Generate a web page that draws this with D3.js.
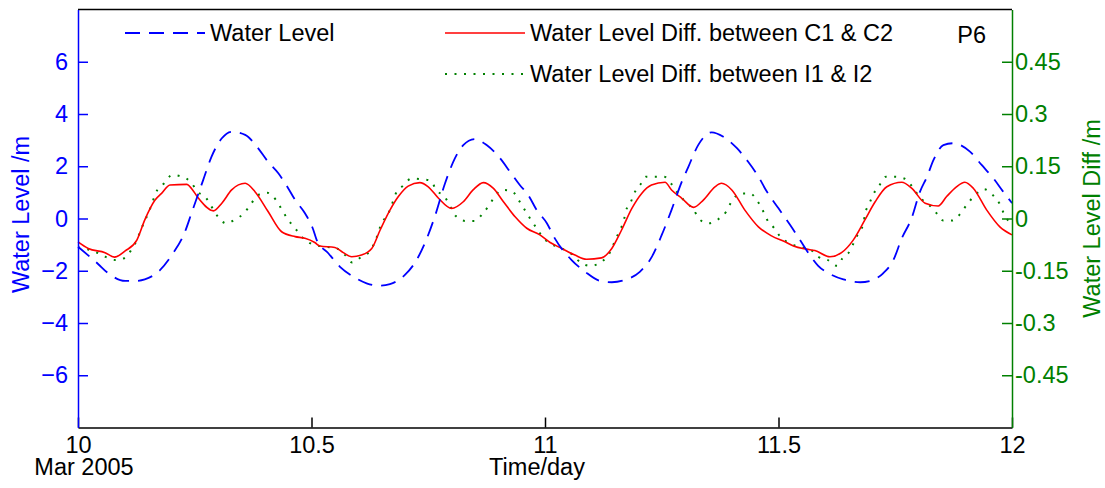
<!DOCTYPE html>
<html>
<head>
<meta charset="utf-8">
<script src="https://cdn.jsdelivr.net/npm/d3@7"></script>
<style>
  body { margin: 0; background: #fff; }
  svg text { font-family: "Liberation Sans", Arial, sans-serif; }
</style>
</head>
<body>
<div id="chart"></div>
<script>
// water level (left axis, m)
var wlTime = [10.000,10.043,10.065,10.101,10.122,10.143,10.176,10.201,10.229,10.243,10.268,10.286,10.308,10.329,10.358,10.383,10.407,10.429,10.450,10.465,10.486,10.504,
  10.511,10.536,10.561,10.590,10.618,10.643,10.668,10.700,10.725,10.747,10.764,10.786,10.807,10.825,10.850,10.875,10.904,10.925,10.946,10.964,10.982,11.004,
  11.021,11.057,11.086,11.118,11.143,11.175,11.203,11.229,11.250,11.271,11.293,11.307,11.328,11.357,11.382,11.411,11.435,11.457,11.475,11.500,
  11.525,11.546,11.567,11.585,11.610,11.639,11.675,11.696,11.724,11.746,11.764,11.785,11.803,11.818,11.832,11.853,11.874,11.910,11.935,11.960,11.981,12.000];
var wlValue = [-1.08,-1.74,-2.10,-2.39,-2.39,-2.33,-1.97,-1.40,-0.51,0.20,1.47,2.37,3.07,3.32,3.20,2.75,2.17,1.73,1.16,0.71,0.20,-0.44,
  -0.82,-1.33,-1.85,-2.23,-2.48,-2.57,-2.51,-2.16,-1.59,-0.76,0.07,1.35,2.30,2.81,3.04,2.81,2.30,1.79,1.28,0.90,0.33,-0.18,
  -0.76,-1.59,-2.04,-2.39,-2.44,-2.33,-2.04,-1.46,-0.63,0.33,1.41,1.98,2.81,3.30,3.13,2.69,2.17,1.60,1.03,0.39,
  -0.25,-0.82,-1.40,-1.81,-2.12,-2.33,-2.44,-2.39,-2.10,-1.59,-0.76,0.01,1.03,1.60,2.24,2.81,2.88,2.56,2.05,1.54,1.03,0.59];

// water level diff between C1 & C2 (right axis, m)
var c12Time = [10.000,10.022,10.058,10.078,10.101,10.126,10.143,10.165,10.179,10.197,10.233,10.240,10.258,10.290,10.308,10.329,10.358,10.379,10.407,10.436,10.465,10.486,
  10.507,10.518,10.550,10.568,10.586,10.607,10.629,10.647,10.668,10.686,10.707,10.732,10.750,10.772,10.800,10.825,10.846,10.868,10.889,10.911,10.936,10.961,10.989,
  11.011,11.036,11.064,11.089,11.121,11.143,11.164,11.186,11.207,11.228,11.257,11.271,11.293,11.318,11.339,11.364,11.378,11.400,11.428,11.457,11.485,
  11.514,11.532,11.560,11.578,11.610,11.635,11.660,11.685,11.707,11.732,11.764,11.785,11.814,11.842,11.860,11.881,11.899,11.917,11.946,11.974,12.000];
var c12Diff = [-0.067,-0.086,-0.098,-0.111,-0.093,-0.062,-0.004,0.053,0.072,0.096,0.098,0.091,0.058,0.022,0.044,0.082,0.101,0.077,0.020,-0.038,-0.052,-0.057,
  -0.069,-0.079,-0.083,-0.098,-0.110,-0.105,-0.086,-0.033,0.024,0.063,0.093,0.103,0.091,0.058,0.029,0.048,0.082,0.103,0.087,0.048,0.005,-0.028,-0.047,
  -0.069,-0.086,-0.105,-0.117,-0.113,-0.086,-0.033,0.029,0.072,0.096,0.104,0.082,0.058,0.032,0.053,0.091,0.101,0.082,0.024,-0.024,-0.050,
  -0.067,-0.079,-0.088,-0.092,-0.110,-0.098,-0.062,-0.004,0.048,0.091,0.104,0.087,0.044,0.036,0.063,0.091,0.104,0.087,0.024,-0.024,-0.047];

// water level diff between I1 & I2 (right axis, m)
var i12Time = [10.000,10.036,10.059,10.079,10.099,10.115,10.126,10.135,10.143,10.152,10.159,10.166,10.183,10.202,10.222,10.242,10.256,10.273,10.286,10.298,10.318,10.338,
  10.354,10.370,10.385,10.405,10.425,10.437,10.449,10.465,10.481,10.497,10.518,10.554,10.572,10.587,10.607,10.624,10.636,10.650,10.664,10.672,10.679,10.695,
  10.715,10.734,10.755,10.767,10.786,10.798,10.809,10.830,10.850,10.866,10.882,10.894,10.909,10.929,10.945,10.957,10.969,10.982,10.996,11.018,11.039,11.057,
  11.076,11.096,11.113,11.132,11.143,11.150,11.161,11.169,11.173,11.184,11.191,11.205,11.216,11.236,11.255,11.271,11.285,11.303,11.319,11.330,11.351,11.371,
  11.388,11.398,11.419,11.439,11.455,11.466,11.475,11.491,11.505,11.528,11.548,11.567,11.585,11.605,11.626,11.637,11.653,11.662,11.671,11.682,11.685,11.694,
  11.702,11.715,11.730,11.749,11.769,11.789,11.802,11.821,11.840,11.853,11.872,11.889,11.904,11.921,11.940,11.959,11.974,11.983,11.996];
var i12Diff = [-0.083,-0.095,-0.110,-0.119,-0.114,-0.088,-0.062,-0.031,-0.007,0.020,0.045,0.072,0.099,0.125,0.120,0.104,0.077,0.061,0.034,0.008,-0.014,-0.001,
  0.013,0.041,0.067,0.074,0.051,0.024,-0.002,-0.028,-0.055,-0.071,-0.079,-0.086,-0.105,-0.126,-0.110,-0.095,-0.067,-0.014,0.013,0.039,0.067,0.093,
  0.115,0.113,0.109,0.082,0.061,0.032,0.007,-0.007,-0.007,0.013,0.041,0.067,0.082,0.079,0.050,0.024,-0.002,-0.028,-0.055,-0.076,-0.088,-0.102,
  -0.126,-0.136,-0.131,-0.110,-0.088,-0.062,-0.033,-0.004,0.020,0.048,0.072,0.099,0.120,0.120,0.120,0.099,0.072,0.045,0.024,-0.002,-0.014,-0.002,
  0.020,0.045,0.072,0.072,0.050,0.024,-0.002,-0.028,-0.054,-0.073,-0.083,-0.088,-0.110,-0.119,-0.136,-0.114,-0.093,-0.067,-0.042,-0.014,0.012,0.041,
  0.067,0.093,0.120,0.120,0.115,0.087,0.061,0.041,0.013,-0.006,-0.006,0.013,0.041,0.067,0.084,0.067,0.041,0.013,-0.014];

var xTicks = [10, 10.5, 11, 11.5, 12];
var leftTicks = [-6, -4, -2, 0, 2, 4, 6];
var rightTicks = [-0.45, -0.3, -0.15, 0, 0.15, 0.3, 0.45];

var W = 1105, H = 488;
// plot box (note: "top" is a reserved window property, so use other names)
var pL = 78, pR = 1012, pT = 9.5, pB = 427.5;

var svg = d3.select("#chart").append("svg")
  .attr("width", W)
  .attr("height", H);

var x = d3.scaleLinear().domain([10, 12]).range([pL, pR]);
var yL = d3.scaleLinear().domain([-8, 8]).range([pB, pT]);
var yR = d3.scaleLinear().domain([-0.6, 0.6]).range([pB, pT]);

var blue = "#0000ff", red = "#ff0000", green = "#008000";

function zip(t, v) {
  return t.map(function(d, i) { return {t: d, v: v[i]}; });
}

// series
var lineL = d3.line().x(function(d) { return x(d.t); }).y(function(d) { return yL(d.v); }).curve(d3.curveMonotoneX);
var lineR = d3.line().x(function(d) { return x(d.t); }).y(function(d) { return yR(d.v); }).curve(d3.curveMonotoneX);

svg.append("path")
  .attr("d", lineR(zip(i12Time, i12Diff)))
  .attr("fill", "none")
  .attr("stroke", green)
  .attr("stroke-width", 2)
  .attr("stroke-dasharray", "2,7.5");

svg.append("path")
  .attr("d", lineR(zip(c12Time, c12Diff)))
  .attr("fill", "none")
  .attr("stroke", red)
  .attr("stroke-width", 1.6);

svg.append("path")
  .attr("d", lineL(zip(wlTime, wlValue)))
  .attr("fill", "none")
  .attr("stroke", blue)
  .attr("stroke-width", 1.8)
  .attr("stroke-dasharray", "15,9");

// top frame line
svg.append("line").attr("x1", pL).attr("x2", pR).attr("y1", pT).attr("y2", pT)
  .attr("stroke", "#000").attr("stroke-width", 1.5);

// axes
var fs = "23.5px";

var xAxis = svg.append("g")
  .attr("transform", "translate(0," + pB + ")")
  .call(d3.axisBottom(x).tickValues(xTicks).tickSizeInner(-10).tickSizeOuter(0).tickPadding(9)
    .tickFormat(function(d) { return String(d); }));
xAxis.select(".domain").attr("stroke", "#000").attr("stroke-width", 1.5);
xAxis.selectAll(".tick line").attr("stroke", "#000").attr("stroke-width", 1.5);
xAxis.selectAll("text").attr("fill", "#000").style("font-size", fs);

var lAxis = svg.append("g")
  .attr("transform", "translate(" + pL + ",0)")
  .call(d3.axisLeft(yL).tickValues(leftTicks).tickSizeInner(-10).tickSizeOuter(0).tickPadding(10));
lAxis.select(".domain").attr("stroke", blue).attr("stroke-width", 1.5);
lAxis.selectAll(".tick line").attr("stroke", blue).attr("stroke-width", 1.5);
lAxis.selectAll("text").attr("fill", blue).style("font-size", fs);

var rAxis = svg.append("g")
  .attr("transform", "translate(" + pR + ",0)")
  .call(d3.axisRight(yR).tickValues(rightTicks).tickSizeInner(-10).tickSizeOuter(0).tickPadding(3)
    .tickFormat(function(d) { return String(d); }));
rAxis.select(".domain").attr("stroke", green).attr("stroke-width", 1.5);
rAxis.selectAll(".tick line").attr("stroke", green).attr("stroke-width", 1.5);
rAxis.selectAll("text").attr("fill", green).style("font-size", fs);

// axis labels
svg.append("text")
  .attr("transform", "translate(29," + ((pT + pB) / 2 - 4) + ") rotate(-90)")
  .attr("text-anchor", "middle")
  .attr("fill", blue)
  .style("font-size", fs)
  .text("Water Level /m");

svg.append("text")
  .attr("transform", "translate(1100," + ((pT + pB) / 2) + ") rotate(-90)")
  .attr("text-anchor", "middle")
  .attr("fill", green)
  .style("font-size", fs)
  .text("Water Level Diff /m");

svg.append("text")
  .attr("x", (pL + pR) / 2 - 8).attr("y", 475)
  .attr("text-anchor", "middle")
  .style("font-size", fs)
  .text("Time/day");

svg.append("text")
  .attr("x", 84).attr("y", 475)
  .attr("text-anchor", "middle")
  .style("font-size", fs)
  .text("Mar 2005");

svg.append("text")
  .attr("x", 986).attr("y", 43)
  .attr("text-anchor", "end")
  .style("font-size", fs)
  .text("P6");

// legend
var legend = [
  {label: "Water Level", color: blue, dash: "15,9", w: 1.8, x: 125, y: 33},
  {label: "Water Level Diff. between C1 & C2", color: red, dash: null, w: 1.6, x: 445, y: 33},
  {label: "Water Level Diff. between I1 & I2", color: green, dash: "2,7.5", w: 2, x: 445, y: 74}
];

var lg = svg.selectAll(".lg").data(legend).enter().append("g").attr("class", "lg");
lg.append("line")
  .attr("x1", function(d) { return d.x; })
  .attr("x2", function(d) { return d.x + 80; })
  .attr("y1", function(d) { return d.y; })
  .attr("y2", function(d) { return d.y; })
  .attr("stroke", function(d) { return d.color; })
  .attr("stroke-width", function(d) { return d.w; })
  .attr("stroke-dasharray", function(d) { return d.dash; });
lg.append("text")
  .attr("x", function(d) { return d.x + 85; })
  .attr("y", function(d) { return d.y + 8; })
  .style("font-size", fs)
  .text(function(d) { return d.label; });
</script>
</body>
</html>
